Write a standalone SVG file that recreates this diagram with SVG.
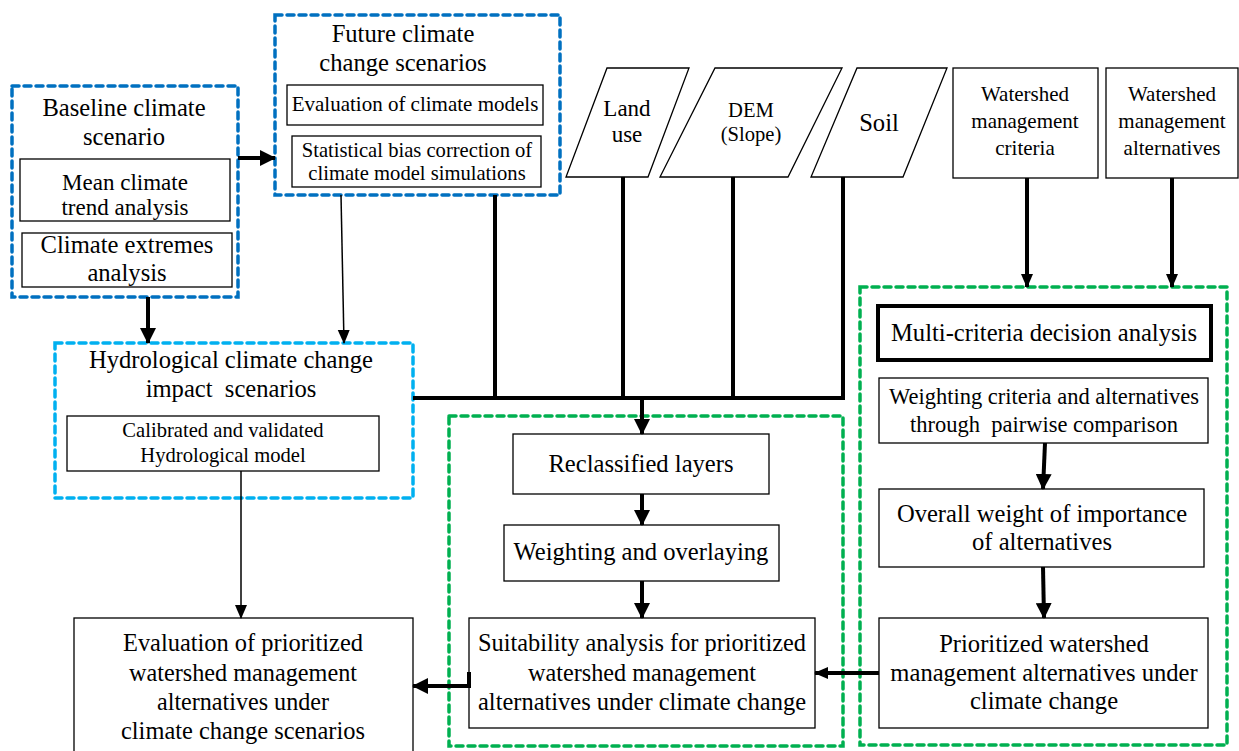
<svg xmlns="http://www.w3.org/2000/svg" width="1239" height="751" viewBox="0 0 1239 751">
<style>
text{font-family:"Liberation Serif","Times New Roman",serif;fill:#000;text-anchor:middle}
.f25{font-size:24.6px}.f23{font-size:23px}.f22{font-size:22.5px}.f21{font-size:21px}.f20{font-size:20.6px}
.box{fill:#fff;stroke:#000;stroke-width:1.3}
.dblue{fill:none;stroke:#0070C0;stroke-width:3.5;stroke-dasharray:7 5;stroke-linecap:round}
.lblue{fill:none;stroke:#00B0F0;stroke-width:3.5;stroke-dasharray:7 5;stroke-linecap:round}
.green{fill:none;stroke:#00B050;stroke-width:3.5;stroke-dasharray:7 5;stroke-linecap:round}
.thick{stroke:#000;stroke-width:4;fill:none}
.thin{stroke:#000;stroke-width:1.5;fill:none}
</style>
<defs>
<marker id="ah" markerUnits="userSpaceOnUse" markerWidth="16" markerHeight="16" viewBox="0 0 16 16" refX="15" refY="8" orient="auto"><path d="M0,0 L16,8 L0,16 Z" fill="#000"/></marker>
<marker id="ahs" markerUnits="userSpaceOnUse" markerWidth="14" markerHeight="14" viewBox="0 0 14 14" refX="13" refY="7" orient="auto"><path d="M0,1 L14,7 L0,13 Z" fill="#000"/></marker>
</defs>

<g id="baseline">
<rect class="dblue" x="12" y="86" width="226" height="211"/>
<text class="f25" x="124" y="116">Baseline climate</text>
<text class="f25" x="124" y="145">scenario</text>
</g>
<g id="mean-trend">
<rect class="box" x="20" y="159" width="210" height="62"/>
<text class="f23" x="125" y="190">Mean climate</text>
<text class="f23" x="125" y="215">trend analysis</text>
</g>
<g id="extremes">
<rect class="box" x="22" y="233" width="210" height="54"/>
<text class="f25" x="127" y="253">Climate extremes</text>
<text class="f25" x="127" y="281">analysis</text>
</g>

<g id="future">
<rect class="dblue" x="275" y="15" width="285" height="180"/>
<text class="f25" x="403" y="42">Future climate</text>
<text class="f25" x="403" y="71">change scenarios</text>
</g>
<g id="eval-models">
<rect class="box" x="287" y="85" width="256" height="40"/>
<text class="f21" x="415" y="111">Evaluation of climate models</text>
</g>
<g id="bias">
<rect class="box" x="292" y="136" width="249" height="51"/>
<text class="f20" x="417" y="157">Statistical bias correction of</text>
<text class="f20" x="417" y="180">climate model simulations</text>
</g>

<g id="landuse">
<polygon class="box" points="607,68 689,68 648,177 566,177"/>
<text class="f23" x="627" y="116">Land</text>
<text class="f23" x="627" y="142">use</text>
</g>
<g id="dem">
<polygon class="box" points="715,68 842,68 788,177 660,177"/>
<text class="f20" x="751" y="117">DEM</text>
<text class="f20" x="751" y="141">(Slope)</text>
</g>
<g id="soil">
<polygon class="box" points="857,68 947,68 903,177 811,177"/>
<text class="f25" x="879" y="131">Soil</text>
</g>

<g id="criteria">
<rect class="box" x="953" y="68" width="145" height="110"/>
<text class="f21" x="1025" y="101">Watershed</text>
<text class="f21" x="1025" y="128">management</text>
<text class="f21" x="1025" y="155">criteria</text>
</g>
<g id="alternatives">
<rect class="box" x="1106" y="68" width="132" height="110"/>
<text class="f21" x="1172" y="101">Watershed</text>
<text class="f21" x="1172" y="128">management</text>
<text class="f21" x="1172" y="155">alternatives</text>
</g>

<g id="hydro">
<rect class="lblue" x="55" y="343" width="358" height="155"/>
<text class="f25" x="231" y="368">Hydrological climate change</text>
<text class="f25" x="231" y="397" xml:space="preserve">impact  scenarios</text>
</g>
<g id="calibrated">
<rect class="box" x="67" y="416" width="312" height="55"/>
<text class="f20" x="223" y="437">Calibrated and validated</text>
<text class="f20" x="223" y="462">Hydrological model</text>
</g>

<g id="gis-group">
<rect class="green" x="449" y="416" width="394" height="330"/>
</g>
<g id="reclassified">
<rect class="box" x="513" y="434" width="256" height="60"/>
<text class="f25" x="641" y="472">Reclassified layers</text>
</g>
<g id="overlay">
<rect class="box" x="504" y="525" width="275" height="56"/>
<text class="f25" x="641" y="560">Weighting and overlaying</text>
</g>
<g id="suitability">
<rect class="box" x="469" y="618" width="346" height="110"/>
<text class="f25" x="642" y="651" textLength="328" lengthAdjust="spacingAndGlyphs">Suitability analysis for prioritized</text>
<text class="f25" x="642" y="681" textLength="228" lengthAdjust="spacingAndGlyphs">watershed management</text>
<text class="f25" x="642" y="710" textLength="328" lengthAdjust="spacingAndGlyphs">alternatives under climate change</text>
</g>

<g id="mcda-group">
<rect class="green" x="860" y="287" width="367" height="458"/>
</g>
<g id="mcda">
<rect x="878" y="306" width="333" height="54" fill="#fff" stroke="#000" stroke-width="4"/>
<text class="f25" x="1044" y="341">Multi-criteria decision analysis</text>
</g>
<g id="pairwise">
<rect class="box" x="879" y="378" width="329" height="65"/>
<text class="f22" x="1044" y="404">Weighting criteria and alternatives</text>
<text class="f22" x="1044" y="432" xml:space="preserve">through  pairwise comparison</text>
</g>
<g id="overall">
<rect class="box" x="879" y="489" width="325" height="78"/>
<text class="f25" x="1042" y="522">Overall weight of importance</text>
<text class="f25" x="1042" y="550">of alternatives</text>
</g>
<g id="prioritized">
<rect class="box" x="879" y="618" width="329" height="110"/>
<text class="f25" x="1044" y="652">Prioritized watershed</text>
<text class="f25" x="1044" y="681">management alternatives under</text>
<text class="f25" x="1044" y="709">climate change</text>
</g>

<g id="evaluation">
<rect class="box" x="74" y="618" width="339" height="150"/>
<text class="f25" x="243" y="651" textLength="240" lengthAdjust="spacingAndGlyphs">Evaluation of prioritized</text>
<text class="f25" x="243" y="681" textLength="228" lengthAdjust="spacingAndGlyphs">watershed management</text>
<text class="f25" x="243" y="710" textLength="172" lengthAdjust="spacingAndGlyphs">alternatives under</text>
<text class="f25" x="243" y="739" textLength="244" lengthAdjust="spacingAndGlyphs">climate change scenarios</text>
</g>

<g id="connectors">
<line class="thick" x1="238" y1="158" x2="275" y2="158" marker-end="url(#ah)"/>
<line class="thick" x1="148" y1="297" x2="148" y2="343" marker-end="url(#ah)"/>
<line class="thin" x1="341" y1="195" x2="344" y2="343" marker-end="url(#ahs)"/>
<polyline class="thick" points="413,398 843,398"/>
<line class="thick" x1="495" y1="195" x2="495" y2="398"/>
<line class="thick" x1="623" y1="177" x2="623" y2="398"/>
<line class="thick" x1="733" y1="177" x2="733" y2="398"/>
<line class="thick" x1="843" y1="177" x2="843" y2="400"/>
<line class="thick" x1="642" y1="398" x2="642" y2="434" marker-end="url(#ah)"/>
<line class="thick" x1="642" y1="494" x2="642" y2="525" marker-end="url(#ah)"/>
<line class="thick" x1="642" y1="581" x2="642" y2="618" marker-end="url(#ah)"/>
<line class="thick" x1="1027" y1="178" x2="1027" y2="287" marker-end="url(#ahs)"/>
<line class="thick" x1="1172" y1="178" x2="1172" y2="287" marker-end="url(#ahs)"/>
<line class="thick" x1="1045" y1="443" x2="1043" y2="489" marker-end="url(#ah)"/>
<line class="thick" x1="1043" y1="567" x2="1044" y2="618" marker-end="url(#ah)"/>
<line class="thick" x1="879" y1="673" x2="815" y2="673" marker-end="url(#ahs)"/>
<polyline class="thick" points="469,672 469,686 413,686" marker-end="url(#ah)"/>
<line class="thin" x1="241" y1="471" x2="241" y2="618" marker-end="url(#ahs)"/>
</g>
</svg>
